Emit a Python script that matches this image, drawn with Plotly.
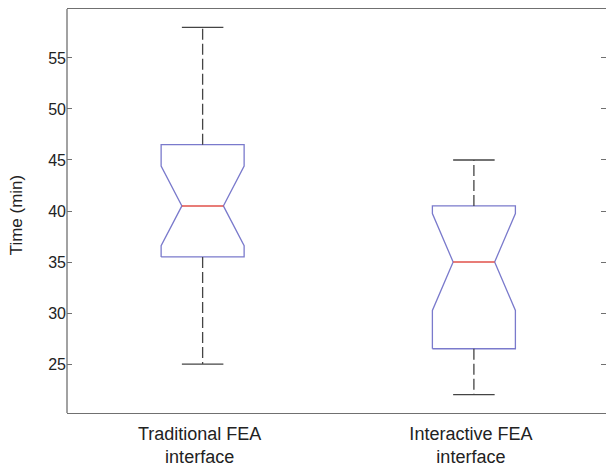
import plotly.graph_objects as go

# ---- data ----
categories = ["Traditional FEA<br>interface", "Interactive FEA<br>interface"]
positions = [1, 2]
lower_whisker = [25.0, 22.0]
q1 = [35.5, 26.5]
notch_low = [36.6, 30.25]
median = [40.5, 35.0]
notch_high = [44.4, 39.75]
q3 = [46.5, 40.5]
upper_whisker = [58.0, 45.0]
y_ticks = [25, 30, 35, 40, 45, 50, 55]

# ---- style ----
BOX_HALF = 0.153
NOTCH_HALF = BOX_HALF / 2
CAP_HALF = BOX_HALF / 2
BOX_COLOR = "#7a7acc"
MED_COLOR = "#e0504a"
WHISK_COLOR = "#444444"
AXIS_COLOR = "#707070"
FONT = "Liberation Sans, Arial, sans-serif"

fig = go.Figure()

for i, p in enumerate(positions):
    xs = [p - BOX_HALF, p - BOX_HALF, p - NOTCH_HALF, p - BOX_HALF, p - BOX_HALF,
          p + BOX_HALF, p + BOX_HALF, p + NOTCH_HALF, p + BOX_HALF, p + BOX_HALF,
          p - BOX_HALF]
    ys = [q1[i], notch_low[i], median[i], notch_high[i], q3[i],
          q3[i], notch_high[i], median[i], notch_low[i], q1[i],
          q1[i]]
    fig.add_trace(go.Scatter(x=xs, y=ys, mode="lines",
                             line=dict(color=BOX_COLOR, width=1.3),
                             hoverinfo="skip", showlegend=False))
    fig.add_trace(go.Scatter(x=[p - NOTCH_HALF, p + NOTCH_HALF], y=[median[i], median[i]],
                             mode="lines", line=dict(color=MED_COLOR, width=1.5),
                             hoverinfo="skip", showlegend=False))
    fig.add_trace(go.Scatter(x=[p, p], y=[q3[i], upper_whisker[i]], mode="lines",
                             line=dict(color=WHISK_COLOR, width=1.3, dash="11px,4px"),
                             hoverinfo="skip", showlegend=False))
    fig.add_trace(go.Scatter(x=[p, p], y=[q1[i], lower_whisker[i]], mode="lines",
                             line=dict(color=WHISK_COLOR, width=1.3, dash="11px,4px"),
                             hoverinfo="skip", showlegend=False))
    for w in (upper_whisker[i], lower_whisker[i]):
        fig.add_trace(go.Scatter(x=[p - CAP_HALF, p + CAP_HALF], y=[w, w], mode="lines",
                                 line=dict(color=WHISK_COLOR, width=1.3),
                                 hoverinfo="skip", showlegend=False))

fig.update_layout(
    width=606, height=467,
    margin=dict(l=67, r=0, t=9, b=54),
    paper_bgcolor="white", plot_bgcolor="white",
    font=dict(family=FONT, size=16, color="#222222"),
    showlegend=False,
)
fig.update_xaxes(
    range=[0.5, 2.487], tickmode="array", tickvals=positions, ticktext=categories,
    ticks="", showgrid=False, zeroline=False, automargin=False,
    showline=True, linecolor=AXIS_COLOR, linewidth=1.3, mirror=True,
    ticklabelstandoff=4, ticklabelshift=-3,
    tickfont=dict(size=18, family=FONT, color="#222222"),
)
fig.update_yaxes(
    range=[20.2, 59.8], tickmode="array", tickvals=y_ticks,
    ticks="inside", ticklen=5, tickcolor=AXIS_COLOR, tickwidth=1.2,
    showgrid=False, zeroline=False, automargin=False,
    showline=False, mirror="ticks",
    tickfont=dict(size=16, family=FONT, color="#222222"),
)
fig.add_shape(type="line", xref="paper", yref="paper", x0=0, x1=0, y0=0, y1=1,
              line=dict(color=AXIS_COLOR, width=1.3))
fig.add_annotation(text="Time (min)", xref="paper", yref="paper",
                   x=-0.094, y=0.49, xanchor="center", yanchor="middle",
                   textangle=-90, showarrow=False,
                   font=dict(size=17, family=FONT, color="#222222"))

fig.write_html("out.html", config={"displayModeBar": False},
               post_script="document.body.style.margin='0px';")
